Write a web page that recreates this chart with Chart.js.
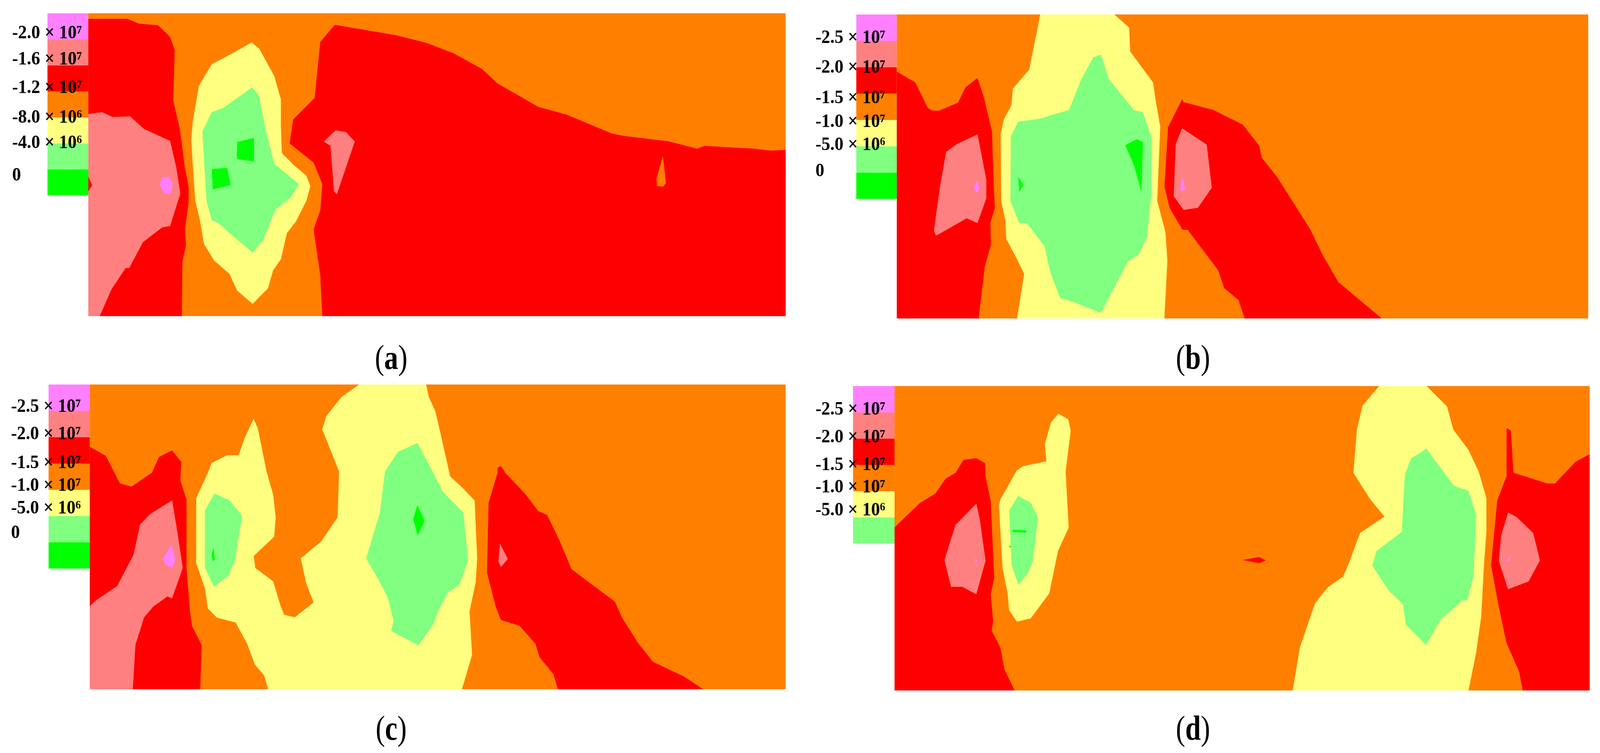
<!DOCTYPE html>
<html>
<head>
<meta charset="utf-8">
<title>Contours</title>
<script src="https://cdn.jsdelivr.net/npm/chart.js@4"></script>
<style>
  html, body { margin: 0; padding: 0; background: #fff; overflow: hidden; }
  #page { position: relative; width: 4348px; height: 1927px; overflow: hidden; transform-origin: 0 0; }
  canvas { position: absolute; }
  .cap { position: absolute; font: 76px "Liberation Serif", serif; color: #000; transform: translate(-50%, -50%) scaleY(1.18); white-space: nowrap; }
</style>
</head>
<body>
<div id="page"></div>
<script>
const MAGENTA = '#ff80ff', PINK = '#ff8080', RED = '#ff0000', ORANGE = '#ff8000',
  YELLOW = '#ffff80', LIGHTGREEN = '#80ff80', GREEN = '#00ff00';

// legend bands, top to bottom
const bandColors = [MAGENTA, PINK, RED, ORANGE, YELLOW, LIGHTGREEN, GREEN];
const bandColorsD = [MAGENTA, PINK, RED, ORANGE, YELLOW, LIGHTGREEN];

const bandEdgesA = [-2.4e7, -2.0e7, -1.6e7, -1.2e7, -8e6, -4e6, 0, 4e6];
const bandEdgesB = [-3.0e7, -2.5e7, -2.0e7, -1.5e7, -1.0e7, -5e6, 0, 5e6];
const bandEdgesD = [-3.0e7, -2.5e7, -2.0e7, -1.5e7, -1.0e7, -5e6, 0];

const tickLabelsA = ['-2.0 × 10⁷', '-1.6 × 10⁷', '-1.2 × 10⁷', '-8.0 × 10⁶', '-4.0 × 10⁶', '0'];
const tickLabelsB = ['-2.5 × 10⁷', '-2.0 × 10⁷', '-1.5 × 10⁷', '-1.0 × 10⁷', '-5.0 × 10⁶', '0'];
const tickLabelsD = ['-2.5 × 10⁷', '-2.0 × 10⁷', '-1.5 × 10⁷', '-1.0 × 10⁷', '-5.0 × 10⁶'];

// where the labels sit next to the bands (they are not quite on the edges)
const tickPosA = [-2.09e7, -1.69e7, -1.25e7, -7.9e6, -4.0e6, 1.0e6];
const tickPosB = [-2.55e7, -1.99e7, -1.41e7, -9.6e6, -5.2e6, -0.2e6];
const tickPosC = [-2.57e7, -2.05e7, -1.5e7, -1.07e7, -6.4e6, -1.7e6];
const tickPosD = [-2.55e7, -2.02e7, -1.49e7, -1.07e7, -6.3e6];

// panel (a)
const aRedLeft = [[173,80],[250,80],[272,100],[310,107],[333,155],[342,210],[339,420],[352,540],[362,700],[369,780],[369,850],[362,960],[364,1025],[357,1095],[356,1322],[173,1322]];
const aPinkLeft = [[173,478],[200,470],[220,490],[255,488],[282,540],[333,590],[345,700],[353,810],[333,945],[318,950],[280,1012],[253,1120],[246,1120],[218,1210],[195,1322],[173,1322]];
const aRedNub = [[173,740],[180,775],[173,800]];
const aMagenta = [[330,738],[338,770],[335,812],[322,808],[313,772],[318,745]];
const aYellow = [[493,178],[508,205],[537,318],[550,415],[550,520],[552,640],[575,690],[600,735],[608,778],[600,840],[580,925],[562,975],[550,1085],[535,1130],[525,1205],[495,1270],[465,1215],[450,1145],[420,1090],[400,1020],[393,930],[383,840],[375,590],[378,510],[390,360],[415,270],[450,230]];
const aLightGreen = [[494,366],[507,400],[520,540],[537,685],[585,770],[570,825],[540,875],[515,1005],[495,1055],[450,975],[430,935],[415,920],[405,840],[397,550],[415,470],[435,455]];
const aGreen1 = [[465,595],[497,578],[497,675],[464,663]];
const aGreen2 = [[415,708],[445,703],[452,773],[417,792]];
const aRedRight = [[656,105],[775,148],[835,180],[890,225],[945,290],[975,350],[1055,448],[1110,480],[1200,560],[1225,570],[1310,592],[1367,623],[1380,611],[1480,623],[1510,631],[1540,628],[1540,1322],[632,1322],[628,1150],[615,960],[628,880],[632,770],[615,680],[568,600],[575,500],[617,410],[628,175]];
const aPinkSmall = [[657,546],[678,553],[695,592],[660,812],[655,800],[648,610],[635,592]];
const aOrangeSmall = [[1299,655],[1305,765],[1300,780],[1288,778],[1287,745]];

// panel (b)
const bRedLeft = [[190,300],[226,345],[250,450],[258,462],[272,464],[310,430],[325,365],[348,327],[360,405],[376,548],[380,800],[382,870],[373,930],[374,1025],[362,1115],[350,1332],[190,1332]];
const bPinkLeft = [[348,562],[365,750],[365,830],[348,932],[327,912],[267,985],[263,965],[275,780],[287,635],[310,600]];
const bMagentaLeft = [[348,755],[352,790],[347,805],[340,785]];
const bYellow = [[471,60],[616,60],[645,115],[647,215],[692,345],[697,420],[706,530],[700,840],[716,970],[720,1090],[714,1332],[426,1332],[440,1145],[425,1080],[405,1000],[403,920],[395,840],[394,560],[400,500],[415,440],[418,370],[450,290],[463,150]];
const bLightGreen = [[590,228],[605,330],[655,462],[672,470],[688,570],[688,820],[680,990],[665,1060],[642,1095],[590,1308],[540,1265],[510,1245],[490,1130],[480,1030],[445,932],[430,932],[413,840],[414,570],[428,510],[470,497],[528,460],[550,340],[575,240]];
const bGreen1 = [[428,740],[438,775],[430,800]];
const bGreen2 = [[660,582],[672,595],[669,797],[655,690],[638,607]];
const bRedRight = [[749,415],[752,428],[810,460],[868,522],[900,610],[905,660],[935,740],[1000,960],[1025,1070],[1055,1180],[1140,1332],[872,1332],[860,1255],[832,1205],[820,1130],[760,960],[750,960],[725,870],[715,780],[722,530]];
const bPinkRight = [[749,537],[797,605],[807,785],[780,868],[752,877],[733,820],[737,600]];
const bMagentaRight = [[749,740],[755,790],[749,800],[745,790]];

// panel (c)
const cRedLeft = [[176,298],[207,335],[235,450],[258,463],[298,405],[312,340],[337,313],[355,360],[353,435],[365,515],[365,790],[372,980],[376,1040],[395,1120],[392,1303],[176,1303]];
const cPinkLeft = [[337,520],[345,620],[358,800],[337,925],[328,917],[300,960],[282,1005],[265,1120],[260,1303],[176,1303],[176,960],[188,935],[230,875],[262,745],[275,620],[295,575]];
const cMagenta = [[336,703],[343,765],[338,798],[325,787],[319,760]];
const cYellow = [[704,39],[835,39],[840,90],[853,150],[865,260],[882,420],[905,465],[930,520],[935,760],[932,860],[920,980],[925,1160],[905,1303],[526,1303],[518,1245],[500,1200],[485,1115],[462,1025],[425,1005],[408,968],[402,885],[385,780],[385,510],[408,405],[415,365],[445,333],[468,333],[480,260],[497,183],[505,220],[522,400],[535,495],[540,590],[537,670],[497,750],[500,800],[535,855],[550,960],[557,995],[578,1005],[615,943],[600,860],[590,760],[630,690],[662,590],[665,400],[650,320],[632,225],[640,170],[670,90]];
const cLightGreen1 = [[420,492],[450,520],[474,583],[460,770],[448,830],[420,877],[402,800],[402,560]];
const cGreen1 = [[418,718],[421,765],[417,770],[415,745]];
const cLightGreen2 = [[818,282],[850,410],[868,485],[908,570],[917,770],[900,870],[878,900],[858,980],[850,1030],[820,1120],[767,1060],[772,1020],[760,920],[740,840],[718,760],[745,570],[755,400],[780,318]];
const cGreen2 = [[818,540],[832,605],[819,663],[810,595]];
const cRedRight = [[975,385],[982,378],[990,405],[1030,495],[1055,565],[1072,580],[1095,680],[1120,805],[1205,940],[1220,1010],[1250,1110],[1280,1190],[1340,1250],[1378,1303],[1094,1303],[1085,1240],[1058,1170],[1050,1115],[1018,1038],[982,1015],[972,960],[955,820],[958,530],[975,410]];
const cPinkRight = [[980,700],[995,762],[982,795],[977,770]];

// panel (d)
const dRedLeft = [[185,632],[235,530],[265,492],[285,430],[305,405],[320,352],[345,345],[362,365],[363,420],[373,520],[380,840],[373,910],[378,1020],[375,1060],[392,1130],[400,1220],[420,1308],[185,1308]];
const dPinkLeft = [[345,533],[352,600],[363,770],[345,908],[318,877],[296,877],[283,767],[305,620]];
const dMagentaLeft = [[344,755],[347,775],[343,775]];
const dYellowLeft = [[506,160],[525,183],[530,230],[520,400],[526,632],[505,730],[488,905],[452,1008],[425,1022],[410,975],[407,905],[397,800],[390,540],[393,515],[425,395],[437,378],[483,358],[480,285],[492,195]];
const dLightGreenLeft = [[427,502],[452,530],[466,592],[456,770],[445,825],[428,868],[415,790],[410,560]];
const dGreen1 = [[416,642],[443,645],[443,652],[418,650]];
const dGreen2 = [[409,708],[414,710],[411,715]];
const dRedSpot = [[868,767],[900,755],[912,768],[900,780]];
const dYellowRight = [[1135,45],[1228,45],[1268,130],[1280,225],[1310,310],[1330,400],[1345,510],[1345,650],[1340,800],[1335,1000],[1325,1150],[1310,1308],[966,1308],[980,1130],[1010,945],[1035,880],[1065,835],[1078,770],[1098,655],[1146,587],[1118,515],[1085,405],[1092,225],[1103,125]];
const dLightGreenRight = [[1228,305],[1250,370],[1282,460],[1310,480],[1325,580],[1320,830],[1308,932],[1298,935],[1255,1015],[1227,1118],[1188,1035],[1182,950],[1155,895],[1122,790],[1130,730],[1180,650],[1186,410],[1198,345]];
const dRedRight = [[1385,220],[1393,230],[1398,405],[1465,450],[1480,450],[1520,360],[1548,328],[1548,1308],[1417,1308],[1410,1230],[1385,1110],[1370,960],[1355,790],[1367,520],[1385,420]];
const dPinkRight = [[1388,570],[1405,590],[1437,655],[1450,768],[1428,855],[1388,887],[1370,770],[1375,660]];
const dMagentaRight = [[1388,752],[1392,765],[1388,775],[1386,765]];

const page = document.getElementById('page');
// the window can come out narrower than the 4348 px figure, so fit the width to it
page.style.transform = 'scaleX(' + (window.innerWidth / 4348) + ')';

function addCanvas(left, top, width, height) {
  const c = document.createElement('canvas');
  c.width = width;
  c.height = height;
  c.style.left = left + 'px';
  c.style.top = top + 'px';
  c.style.width = width + 'px';
  c.style.height = height + 'px';
  page.appendChild(c);
  return c;
}

function toPoints(list) {
  return list.map(p => ({ x: p[0], y: p[1] }));
}

// regions are painted in list order, the later ones on top
function drawContours(box, domain, regions) {
  const [xMin, xMax, yMin, yMax] = domain;
  const all = [[ORANGE, [[xMin, yMin], [xMax, yMin], [xMax, yMax], [xMin, yMax]]]].concat(regions);
  new Chart(addCanvas(box.left, box.top, box.right - box.left, box.bottom - box.top), {
    type: 'scatter',
    data: {
      datasets: all.map((r, i) => ({
        data: toPoints(r[1]),
        showLine: true,
        fill: 'shape',
        tension: 0,
        backgroundColor: r[0],
        borderColor: r[0],
        borderWidth: 1,
        pointRadius: 0,
        order: all.length - i
      }))
    },
    options: {
      responsive: false,
      animation: false,
      devicePixelRatio: 1,
      layout: { padding: 0 },
      plugins: { legend: { display: false }, tooltip: { enabled: false } },
      scales: {
        x: { type: 'linear', min: xMin, max: xMax, display: false },
        y: { type: 'linear', min: yMin, max: yMax, reverse: true, display: false }
      }
    }
  });
}

function drawLegend(box, colors, edges, labels, tickPos) {
  const padLeft = box.barLeft - box.labelLeft;
  new Chart(addCanvas(box.labelLeft, box.top - 20, box.barRight - box.labelLeft, box.bottom - box.top + 40), {
    type: 'bar',
    data: {
      labels: ['level'],
      datasets: colors.map((c, i) => ({
        data: [[edges[i], edges[i + 1]]],
        backgroundColor: c,
        borderWidth: 0,
        grouped: false,
        barPercentage: 1,
        categoryPercentage: 1
      }))
    },
    options: {
      responsive: false,
      animation: false,
      devicePixelRatio: 1,
      layout: { padding: { left: padLeft, top: 20, bottom: 20, right: 0 } },
      plugins: { legend: { display: false }, tooltip: { enabled: false } },
      scales: {
        x: { display: false },
        y: {
          type: 'linear',
          min: edges[0],
          max: edges[edges.length - 1],
          reverse: true,
          border: { display: false },
          grid: { display: false, drawTicks: false },
          afterFit: s => { s.width = 0; },
          afterBuildTicks: s => { s.ticks = tickPos.map(v => ({ value: v })); },
          ticks: {
            mirror: true,
            padding: -padLeft,
            z: 1,
            autoSkip: false,
            color: '#000',
            font: { family: '"Liberation Serif", serif', size: 48, weight: 'bold' },
            callback: (v, i) => labels[i]
          }
        }
      }
    }
  });
}

function addCaption(letter, x, y) {
  const d = document.createElement('div');
  d.className = 'cap';
  d.style.left = x + 'px';
  d.style.top = y + 'px';
  d.innerHTML = '(<b>' + letter + '</b>)';
  page.appendChild(d);
}

// (a)
drawLegend({ labelLeft: 33, barLeft: 129, barRight: 240, top: 34, bottom: 500 }, bandColors, bandEdgesA, tickLabelsA, tickPosA);
drawContours({ left: 240, right: 2135, top: 34, bottom: 809 }, [173, 1540, 56, 1322], [
  [RED, aRedLeft], [PINK, aPinkLeft], [RED, aRedNub], [MAGENTA, aMagenta],
  [YELLOW, aYellow], [LIGHTGREEN, aLightGreen], [GREEN, aGreen1], [GREEN, aGreen2],
  [RED, aRedRight], [PINK, aPinkSmall], [ORANGE, aOrangeSmall]
]);
addCaption('a', 1063, 914);

// (b)
drawLegend({ labelLeft: 2216, barLeft: 2327, barRight: 2437, top: 37, bottom: 509 }, bandColors, bandEdgesB, tickLabelsB, tickPosB);
drawContours({ left: 2437, right: 4316, top: 37, bottom: 815 }, [190, 1545, 60, 1332], [
  [RED, bRedLeft], [PINK, bPinkLeft], [MAGENTA, bMagentaLeft],
  [YELLOW, bYellow], [LIGHTGREEN, bLightGreen], [GREEN, bGreen1], [GREEN, bGreen2],
  [RED, bRedRight], [PINK, bPinkRight], [MAGENTA, bMagentaRight]
]);
addCaption('b', 3242, 914);

// (c)
drawLegend({ labelLeft: 30, barLeft: 132, barRight: 244, top: 984, bottom: 1455 }, bandColors, bandEdgesB, tickLabelsB, tickPosC);
drawContours({ left: 244, right: 2135, top: 984, bottom: 1764 }, [176, 1540, 39, 1303], [
  [RED, cRedLeft], [PINK, cPinkLeft], [MAGENTA, cMagenta],
  [YELLOW, cYellow], [LIGHTGREEN, cLightGreen1], [GREEN, cGreen1],
  [LIGHTGREEN, cLightGreen2], [GREEN, cGreen2],
  [RED, cRedRight], [PINK, cPinkRight]
]);
addCaption('c', 1063, 1863);

// (d)
drawLegend({ labelLeft: 2216, barLeft: 2318, barRight: 2431, top: 988, bottom: 1391 }, bandColorsD, bandEdgesD, tickLabelsD, tickPosD);
drawContours({ left: 2431, right: 4320, top: 988, bottom: 1767 }, [185, 1548, 45, 1308], [
  [RED, dRedLeft], [PINK, dPinkLeft], [MAGENTA, dMagentaLeft],
  [YELLOW, dYellowLeft], [LIGHTGREEN, dLightGreenLeft], [GREEN, dGreen1], [GREEN, dGreen2],
  [RED, dRedSpot],
  [YELLOW, dYellowRight], [LIGHTGREEN, dLightGreenRight],
  [RED, dRedRight], [PINK, dPinkRight], [MAGENTA, dMagentaRight]
]);
addCaption('d', 3242, 1863);
</script>
</body>
</html>
